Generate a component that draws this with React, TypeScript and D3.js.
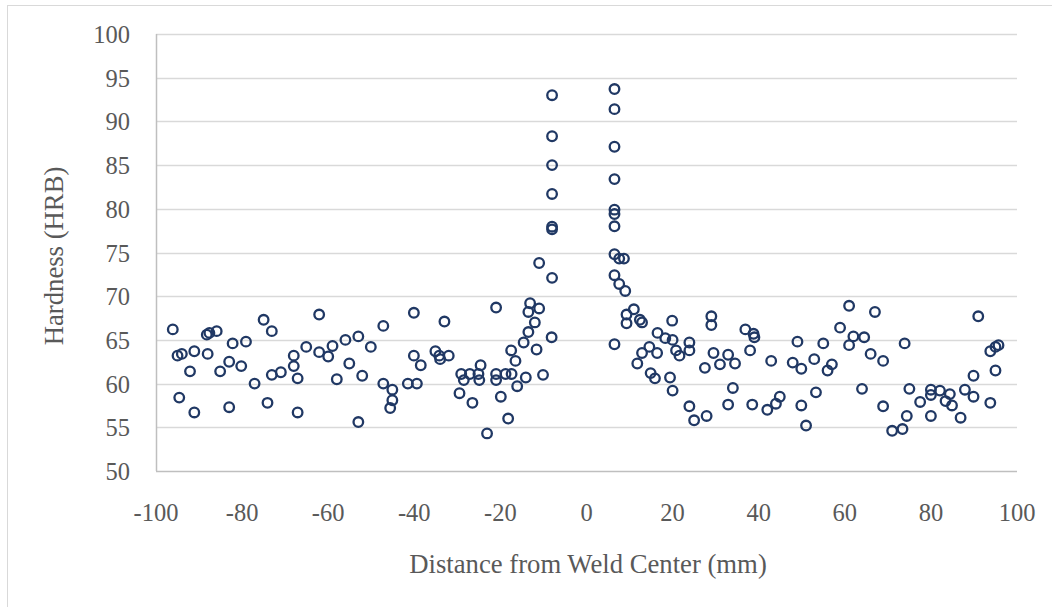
import React, { useRef, useEffect } from "react";
import * as d3 from "d3";

// distance from weld center (mm)
const distances = [
  -96.1, -95.0, -94.0, -94.6, -92.1, -91.1, -91.1, -88.2, -87.6, -88.0,
  -85.9, -85.1, -83.0, -82.2, -83.0, -80.2, -79.1, -77.1, -75.0, -74.1,
  -73.1, -73.1, -71.0, -68.0, -68.0, -67.1, -67.1, -65.1, -62.1, -62.1,
  -60.0, -59.0, -58.0, -56.0, -55.1, -53.0, -53.0, -52.1, -50.1, -47.2,
  -47.2, -45.1, -45.1, -45.6, -41.5, -39.4, -40.1, -40.1, -38.5, -33.0,
  -35.1, -34.2, -34.0, -32.0, -29.5, -29.1, -28.5, -27.1, -26.5, -25.1,
  -24.9, -24.6, -23.1, -21.0, -21.0, -21.0, -19.9, -18.8, -17.4, -18.2,
  -17.5, -16.5, -16.1, -14.1, -14.6, -13.5, -12.0, -13.5, -13.1, -11.0,
  -11.6, -10.1, -8.1, -11.0, -8.0, -8.0, -8.0, -8.0, -8.0, -8.0, -8.0,
  6.5, 6.5, 6.5, 6.5, 6.5, 6.5, 6.5, 6.5, 7.6, 8.7,
  6.5, 7.6, 9.0, 6.5, 9.3, 11.0, 9.3, 12.4, 12.9, 16.5,
  14.6, 12.9, 11.8, 16.4, 14.9, 15.9, 18.3, 19.9, 20.0, 20.8,
  21.6, 19.4, 20.0, 23.9, 23.9, 23.9, 25.0, 27.9, 27.5, 29.0,
  29.0, 29.5, 31.0, 32.9, 34.5, 34.0, 32.9, 36.9, 38.8, 39.0,
  38.0, 38.5, 42.9, 42.0, 44.0, 44.9, 47.9, 49.9, 49.0, 49.9,
  51.0, 52.9, 53.3, 55.0, 57.0, 56.0, 58.9, 61.0, 62.0, 61.0,
  64.5, 64.0, 66.0, 67.0, 68.9, 68.9, 71.0, 73.4, 73.9, 75.0,
  74.4, 77.5, 80.0, 80.0, 80.0, 82.1, 83.4, 84.4, 84.9, 86.9,
  87.9, 89.9, 89.9, 91.0, 93.8, 93.8, 95.0, 95.0, 95.7,
];

// hardness (HRB)
const hardness = [
  66.2, 63.2, 63.4, 58.4, 61.4, 63.7, 56.7, 65.6, 65.8, 63.4,
  66.0, 61.4, 62.5, 64.6, 57.3, 62.0, 64.8, 60.0, 67.3, 57.8,
  66.0, 61.0, 61.3, 63.2, 62.0, 60.6, 56.7, 64.2, 67.9, 63.6,
  63.1, 64.3, 60.5, 65.0, 62.3, 65.4, 55.6, 60.9, 64.2, 66.6,
  60.0, 59.3, 58.1, 57.2, 60.0, 60.0, 68.1, 63.2, 62.1, 67.1,
  63.7, 63.2, 62.8, 63.2, 58.9, 61.1, 60.4, 61.1, 57.8, 61.1,
  60.4, 62.1, 54.3, 61.1, 60.4, 68.7, 58.5, 61.1, 61.1, 56.0,
  63.8, 62.6, 59.7, 60.7, 64.7, 65.9, 67.0, 68.2, 69.2, 68.6,
  63.9, 61.0, 65.3, 73.8, 72.1, 77.65, 77.95, 81.7, 85.0, 88.3, 93.0,
  93.7, 91.4, 87.1, 83.4, 79.9, 79.4, 78.0, 74.8, 74.3, 74.3,
  72.4, 71.4, 70.6, 64.5, 67.9, 68.5, 66.9, 67.3, 67.0, 65.8,
  64.2, 63.5, 62.3, 63.5, 61.2, 60.6, 65.2, 67.2, 65.0, 63.8,
  63.2, 60.7, 59.2, 64.7, 63.8, 57.4, 55.8, 56.3, 61.8, 67.7,
  66.7, 63.5, 62.2, 63.3, 62.3, 59.5, 57.6, 66.2, 65.7, 65.3,
  63.8, 57.6, 62.6, 57.0, 57.7, 58.5, 62.4, 61.7, 64.8, 57.5,
  55.2, 62.8, 59.0, 64.6, 62.2, 61.5, 66.4, 68.9, 65.4, 64.4,
  65.3, 59.4, 63.4, 68.2, 62.6, 57.4, 54.6, 54.8, 64.6, 59.4,
  56.3, 57.9, 59.3, 58.7, 56.3, 59.2, 58.0, 58.8, 57.5, 56.1,
  59.3, 60.9, 58.5, 67.7, 57.8, 63.7, 61.5, 64.2, 64.4,
];

const xTicks = [-100, -80, -60, -40, -20, 0, 20, 40, 60, 80, 100];
const yTicks = [50, 55, 60, 65, 70, 75, 80, 85, 90, 95, 100];

const App = () => {
  const chartRef = useRef<SVGSVGElement>(null);

  useEffect(() => {
    const svgWidth = 1052;
    const svgHeight = 607;
    const margin = { top: 34, right: 35, bottom: 136, left: 156 };
    const width = svgWidth - margin.left - margin.right;
    const height = svgHeight - margin.top - margin.bottom;
    const font = "'Liberation Serif', 'Times New Roman', serif";

    const svg = d3.select(chartRef.current);
    svg.selectAll("*").remove();

    svg
      .append("rect")
      .attr("width", svgWidth)
      .attr("height", svgHeight)
      .attr("fill", "#fff");

    // chart frame (only left and top edges visible in the original)
    svg
      .append("rect")
      .attr("x", 7.5)
      .attr("y", 5.5)
      .attr("width", 1200)
      .attr("height", 800)
      .attr("fill", "none")
      .attr("stroke", "#d9d9d9")
      .attr("stroke-width", 1);

    const g = svg
      .append("g")
      .attr("transform", `translate(${margin.left},${margin.top})`);

    const x = d3.scaleLinear().domain([-100, 100]).range([0, width]);
    const y = d3.scaleLinear().domain([50, 100]).range([height, 0]);

    // gridlines
    g.selectAll(".grid")
      .data(yTicks.slice(1))
      .enter()
      .append("line")
      .attr("x1", 0)
      .attr("x2", width)
      .attr("y1", (d) => Math.round(y(d)) + 0.5)
      .attr("y2", (d) => Math.round(y(d)) + 0.5)
      .attr("stroke", "#d9d9d9")
      .attr("stroke-width", 1.3);

    // axis lines
    g.append("line")
      .attr("x1", 0)
      .attr("x2", width)
      .attr("y1", height + 0.5)
      .attr("y2", height + 0.5)
      .attr("stroke", "#bfbfbf")
      .attr("stroke-width", 1.5);
    g.append("line")
      .attr("x1", 0.5)
      .attr("x2", 0.5)
      .attr("y1", 0)
      .attr("y2", height)
      .attr("stroke", "#bfbfbf")
      .attr("stroke-width", 1.5);

    // tick labels
    g.selectAll(".xlab")
      .data(xTicks)
      .enter()
      .append("text")
      .attr("x", (d) => x(d))
      .attr("y", height + 50)
      .attr("text-anchor", "middle")
      .attr("font-family", font)
      .attr("font-size", 24.5)
      .attr("fill", "#595959")
      .text((d) => d);

    g.selectAll(".ylab")
      .data(yTicks)
      .enter()
      .append("text")
      .attr("x", -26)
      .attr("y", (d) => y(d) + 9)
      .attr("text-anchor", "end")
      .attr("font-family", font)
      .attr("font-size", 24.5)
      .attr("fill", "#595959")
      .text((d) => d);

    // axis titles
    svg
      .append("text")
      .attr("x", 588)
      .attr("y", 573)
      .attr("text-anchor", "middle")
      .attr("font-family", font)
      .attr("font-size", 26.7)
      .attr("fill", "#595959")
      .text("Distance from Weld Center (mm)");

    svg
      .append("text")
      .attr("transform", "translate(63,256) rotate(-90)")
      .attr("text-anchor", "middle")
      .attr("font-family", font)
      .attr("font-size", 26.7)
      .attr("fill", "#595959")
      .text("Hardness (HRB)");

    // points
    g.selectAll(".pt")
      .data(distances.map((d, i) => ({ dist: d, hrb: hardness[i] })))
      .enter()
      .append("circle")
      .attr("cx", (d) => x(d.dist))
      .attr("cy", (d) => y(d.hrb))
      .attr("r", 4.8)
      .attr("fill", "none")
      .attr("stroke", "#203864")
      .attr("stroke-width", 2.3);
  }, []);

  return (
    <svg
      ref={chartRef}
      width={1052}
      height={607}
      style={{ position: "absolute", left: 0, top: 0 }}
    />
  );
};

export default App;
